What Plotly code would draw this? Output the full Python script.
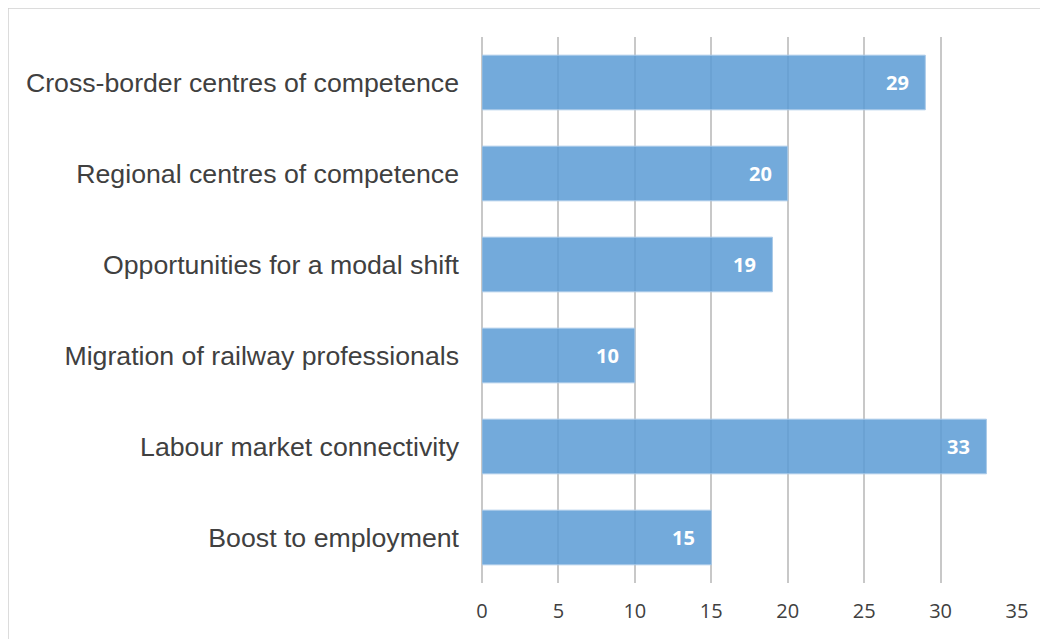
import plotly.graph_objects as go

categories = [
    "Cross-border centres of competence",
    "Regional centres of competence",
    "Opportunities for a modal shift",
    "Migration of railway professionals",
    "Labour market connectivity",
    "Boost to employment",
]
values = [29, 20, 19, 10, 33, 15]
x_ticks = [0, 5, 10, 15, 20, 25, 30, 35]

fig = go.Figure()
fig.add_trace(go.Bar(
    x=values, y=categories, orientation="h", width=0.6,
    marker=dict(color="rgba(91,155,213,0.85)", line=dict(color="#a9c9e8", width=1)),
    hoverinfo="x+y",
))

# white value labels at the end of each bar
for cat, v in zip(categories, values):
    fig.add_annotation(
        x=v, y=cat, text=str(v), showarrow=False, xanchor="right", xshift=-14,
        font=dict(family="Open Sans", size=20, color="white", weight="bold"),
    )

# light frame around the chart area (page margin offsets it by 8px)
fx = -474 / 535
fy = 1 + 29 / 546
fig.add_shape(type="line", xref="paper", yref="paper", x0=fx, x1=1.2, y0=fy, y1=fy,
              line=dict(color="#d0d0d0", width=1.5))
fig.add_shape(type="line", xref="paper", yref="paper", x0=fx, x1=fx, y0=fy, y1=-0.2,
              line=dict(color="#d0d0d0", width=1.5))

fig.update_layout(
    width=1040, height=631,
    margin=dict(l=474, r=31, t=29, b=56),
    plot_bgcolor="white", paper_bgcolor="white",
    showlegend=False, bargap=0.4,
)
fig.update_xaxes(
    range=[0, 35], tickvals=x_ticks, showgrid=True, gridcolor="#c8c8c8", gridwidth=1.5,
    zeroline=True, zerolinecolor="#c8c8c8", zerolinewidth=1.5, showline=False, ticks="",
    tickfont=dict(family="Open Sans", size=20, color="#404040"), ticklabelstandoff=14,
)
fig.update_yaxes(
    categoryorder="array", categoryarray=categories[::-1], showgrid=False,
    zeroline=False, showline=False, ticks="",
    tickfont=dict(family="Liberation Sans", size=26.7, color="#404040"), ticklabelstandoff=22,
)

fig.write_html("out.html")
